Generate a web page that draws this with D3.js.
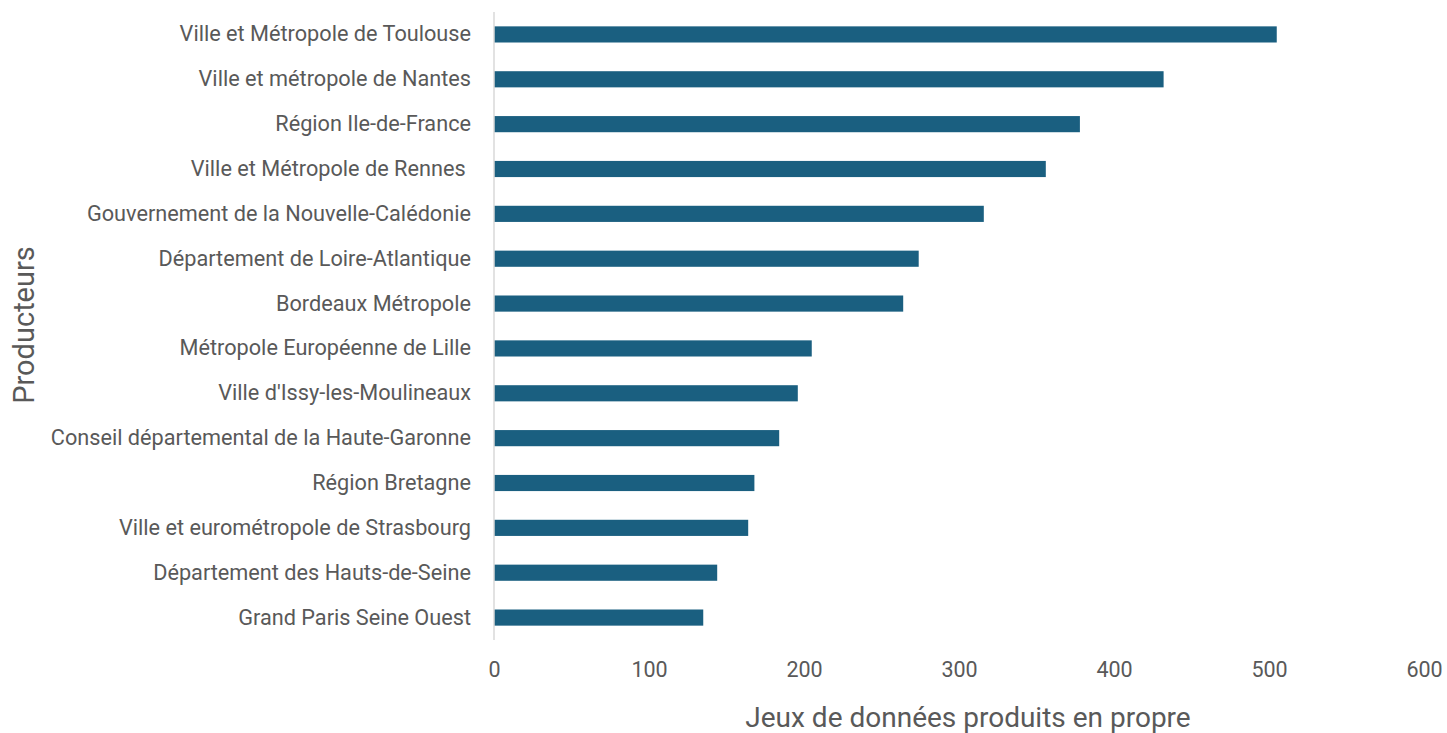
<!DOCTYPE html>
<html><head><meta charset="utf-8">
<script src="https://cdn.jsdelivr.net/npm/d3@7"></script>
<style>body{margin:0;background:#fff}svg{display:block}</style>
</head><body>
<svg id="c" width="1447" height="733"></svg>
<script>
const categories = [
  "Ville et Métropole de Toulouse",
  "Ville et métropole de Nantes",
  "Région Ile-de-France",
  "Ville et Métropole de Rennes ",
  "Gouvernement de la Nouvelle-Calédonie",
  "Département de Loire-Atlantique",
  "Bordeaux Métropole",
  "Métropole Européenne de Lille",
  "Ville d'Issy-les-Moulineaux",
  "Conseil départemental de la Haute-Garonne",
  "Région Bretagne",
  "Ville et eurométropole de Strasbourg",
  "Département des Hauts-de-Seine",
  "Grand Paris Seine Ouest"
];
const values = [505, 432, 378, 356, 316, 274, 264, 205, 196, 184, 168, 164, 144, 135];
const xTicks = [0, 100, 200, 300, 400, 500, 600];
const xTitle = "Jeux de données produits en propre";
const yTitle = "Producteurs";

const svg = d3.select("#c");
const font = "Roboto, 'Open Sans', sans-serif";
const x = d3.scaleLinear().domain([0, 600]).range([494, 1424]);
const y = d3.scaleBand().domain(categories).range([12, 640]).paddingInner(0.64).paddingOuter(0.32);

svg.append("g").selectAll("rect").data(values).join("rect")
  .attr("x", x(0))
  .attr("y", (d, i) => y(categories[i]))
  .attr("width", d => x(d) - x(0))
  .attr("height", y.bandwidth())
  .attr("fill", "#1a5f80");

svg.append("line").attr("x1", x(0)).attr("x2", x(0)).attr("y1", 12).attr("y2", 640)
  .attr("stroke", "#d9d9d9").attr("stroke-width", 1.5);

const yAxis = svg.append("g").attr("transform", `translate(${x(0)},0)`)
  .call(d3.axisLeft(y).tickSize(0).tickPadding(23));
yAxis.select(".domain").remove();
yAxis.selectAll("text").attr("font-family", font).attr("font-size", 21.7).attr("fill", "#595959")
  .style("white-space", "pre");

const xAxis = svg.append("g").attr("transform", `translate(0,640)`)
  .call(d3.axisBottom(x).tickValues(xTicks).tickSize(0).tickPadding(22));
xAxis.select(".domain").remove();
xAxis.selectAll("text").attr("font-family", font).attr("font-size", 21.5).attr("fill", "#595959");

svg.append("text").attr("x", 968).attr("y", 727).attr("text-anchor", "middle")
  .attr("font-family", font).attr("font-size", 28).attr("fill", "#595959").text(xTitle);
svg.append("text").attr("transform", "translate(34,325) rotate(-90)").attr("text-anchor", "middle")
  .attr("font-family", font).attr("font-size", 29).attr("fill", "#595959").text(yTitle);
</script>
</body></html>
